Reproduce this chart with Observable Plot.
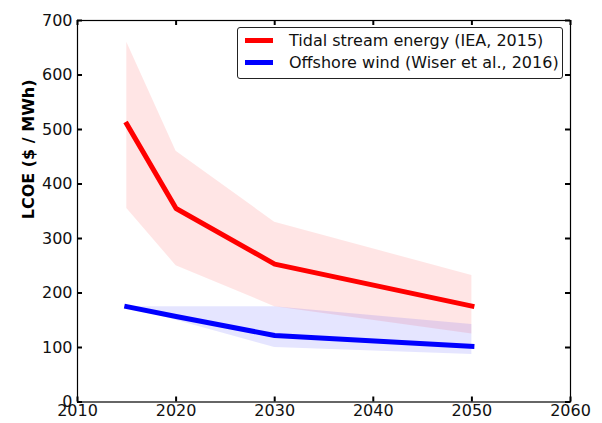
<!DOCTYPE html>
<html>
<head>
<meta charset="utf-8">
<script src="https://cdn.jsdelivr.net/npm/d3@7"></script>
<script src="https://cdn.jsdelivr.net/npm/@observablehq/plot@0.6"></script>
<style>
  body { margin: 0; background: #fff; font-family: "DejaVu Sans", sans-serif; }
  #chart { position: relative; width: 602px; height: 423px; }
  #legend {
    position: absolute; left: 237px; top: 27px; width: 324px; height: 50px;
    border: 1px solid #222; border-radius: 3px; background: #fff;
    font-size: 16px; color: #111;
  }
  .row { position: absolute; left: 0; height: 22px; display: flex; align-items: center; white-space: nowrap; }
  .swatch { width: 28px; height: 5px; margin-left: 7px; margin-right: 16px; }
</style>
</head>
<body>
<div id="chart"></div>
<script>
// Levelised cost of energy projections, $/MWh
const years = [2015, 2020, 2030, 2050];
const tidalCentral = [510, 355, 253, 176];
const tidalLow = [355, 250, 175, 125];
const tidalHigh = [660, 460, 330, 232];
const windCentral = [175, 157, 122, 102];
const windLow = [175, 150, 100, 87];
const windHigh = [175, 175, 175, 142];

const seriesNames = ["Tidal stream energy (IEA, 2015)", "Offshore wind (Wiser et al., 2016)"];
const seriesColors = ["red", "blue"];

const xTicks = [2010, 2020, 2030, 2040, 2050, 2060];
const yTicks = [0, 100, 200, 300, 400, 500, 600, 700];
const yTitle = "LCOE ($ / MWh)";

const tidal = years.map((year, i) => ({year, mid: tidalCentral[i], lo: tidalLow[i], hi: tidalHigh[i]}));
const wind = years.map((year, i) => ({year, mid: windCentral[i], lo: windLow[i], hi: windHigh[i]}));

const W = 602, H = 423;
const mL = 77, mR = 32, mT = 20, mB = 21.5;
const innerW = W - mL - mR, innerH = H - mT - mB;
const tickLen = 5;

const chart = Plot.plot({
  width: W, height: H,
  marginLeft: mL, marginRight: mR, marginTop: mT, marginBottom: mB,
  style: {fontFamily: "DejaVu Sans, sans-serif", fontSize: "16px", color: "#111", background: "white"},
  x: {domain: [2010, 2060]},
  y: {domain: [0, 700]},
  marks: [
    // uncertainty bands
    Plot.areaY(tidal, {x: "year", y1: "lo", y2: "hi", fill: seriesColors[0], fillOpacity: 0.1, curve: "linear"}),
    Plot.areaY(wind, {x: "year", y1: "lo", y2: "hi", fill: seriesColors[1], fillOpacity: 0.1, curve: "linear"}),
    // central estimates
    Plot.line(tidal, {x: "year", y: "mid", stroke: seriesColors[0], strokeWidth: 5, strokeLinecap: "square", strokeLinejoin: "round"}),
    Plot.line(wind, {x: "year", y: "mid", stroke: seriesColors[1], strokeWidth: 5, strokeLinecap: "square", strokeLinejoin: "round"}),
    // inward ticks on all four sides
    Plot.tickX(xTicks, {x: d => d, insetTop: innerH - tickLen, stroke: "black", strokeWidth: 2}),
    Plot.tickX(xTicks, {x: d => d, insetBottom: innerH - tickLen, stroke: "black", strokeWidth: 2}),
    Plot.tickY(yTicks, {y: d => d, insetRight: innerW - tickLen, stroke: "black", strokeWidth: 2}),
    Plot.tickY(yTicks, {y: d => d, insetLeft: innerW - tickLen, stroke: "black", strokeWidth: 2}),
    // tick labels
    Plot.axisX(xTicks, {anchor: "bottom", tickSize: 0, tickPadding: 3, tickFormat: d => `${d}`, label: null}),
    Plot.axisY(yTicks, {anchor: "left", tickSize: 0, tickPadding: 5, tickFormat: d => `${d}`, label: null}),
    Plot.frame({stroke: "black", strokeWidth: 1.2}),
    // y-axis title
    Plot.text([yTitle], {text: d => d, frameAnchor: "left", rotate: -90, dx: -49, dy: 8, fontWeight: "bold", fontSize: 16, fill: "black"})
  ]
});

const root = document.getElementById("chart");
root.appendChild(chart);

const legend = document.createElement("div");
legend.id = "legend";
seriesNames.forEach((name, i) => {
  const row = document.createElement("div");
  row.className = "row";
  row.style.top = (1 + i * 22.7) + "px";
  const sw = document.createElement("span");
  sw.className = "swatch";
  sw.style.background = seriesColors[i];
  const label = document.createElement("span");
  label.textContent = name;
  row.appendChild(sw);
  row.appendChild(label);
  legend.appendChild(row);
});
root.appendChild(legend);
</script>
</body>
</html>
